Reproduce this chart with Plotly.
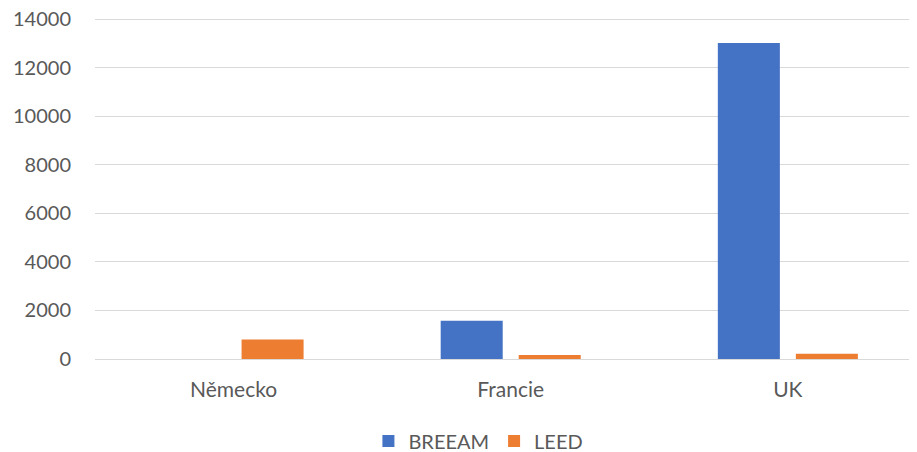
import plotly.graph_objects as go

categories = ["Německo", "Francie", "UK"]
breeam = [0, 1580, 13020]
leed = [800, 165, 220]
y_ticks = [0, 2000, 4000, 6000, 8000, 10000, 12000, 14000]

# the page has an 8px body margin, so the figure is drawn 8px in from the top-left
OFF = 8
W, H = 917 - OFF, 452 - OFF
L, R = 95 - OFF, 917 - OFF
YMAX = 14000
YTOP = 14300  # a little headroom so the top grid line is kept
px_per_unit = (359 - 19) / YMAX
B = 359 - OFF
T = B - YTOP * px_per_unit

fig = go.Figure()
fig.add_trace(go.Bar(name="BREEAM", x=categories, y=breeam, marker_color="#4472C4",
                     marker_line_width=0))
fig.add_trace(go.Bar(name="LEED", x=categories, y=leed, marker_color="#ED7D31",
                     marker_line_width=0))

fam = "Lato, 'Open Sans', sans-serif"
font = dict(family=fam, size=21, color="#595959")
yfont = dict(family=fam, size=20, color="#595959")

fig.update_layout(
    width=W, height=H,
    margin=dict(l=L, r=W - R, t=T, b=H - B, autoexpand=False),
    paper_bgcolor="white", plot_bgcolor="white",
    barmode="group", bargap=0.437, bargroupgap=0.205,
    font=font,
    showlegend=True,
    legend=dict(orientation="h", x=(432 - OFF) / W, xanchor="center",
                y=(B - (441 - OFF)) / (B - T), yanchor="middle",
                font=dict(family=fam, size=20, color="#595959"),
                itemwidth=30, traceorder="normal"),
)
fig.update_xaxes(range=[-0.5, 2.466], showgrid=False, showline=False, zeroline=False,
                 ticks="", tickfont=font, ticklabelstandoff=16)
fig.update_yaxes(range=[0, YTOP], tickvals=y_ticks, ticktext=[str(v) for v in y_ticks],
                 showgrid=True, gridcolor="#D9D9D9", gridwidth=1.3,
                 zeroline=True, zerolinecolor="#D9D9D9", zerolinewidth=1.3,
                 showline=False, ticks="", tickfont=yfont, ticklabelstandoff=23,
                 ticklabeloverflow="allow")

fig.write_html("out.html")
